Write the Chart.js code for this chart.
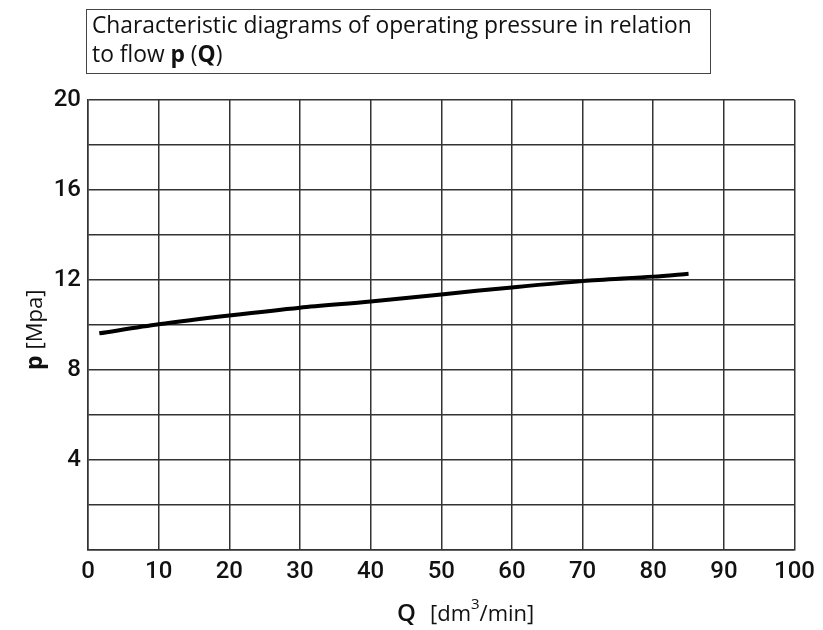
<!DOCTYPE html>
<html>
<head>
<meta charset="utf-8">
<script src="https://cdn.jsdelivr.net/npm/chart.js@4.4.1/dist/chart.umd.min.js"></script>
<style>
  body { margin: 0; background: #fff; }
  #wrap { position: relative; width: 823px; height: 630px; }
  #title {
    position: absolute; left: 86px; top: 9px; width: 618px; height: 63px;
    border: 1.5px solid #444; padding: 0 0 0 5px; box-sizing: content-box;
    font-family: "Open Sans", sans-serif; font-size: 22.8px; line-height: 29px; color: #111;
  }
  #title b { font-weight: 700; }
  canvas { position: absolute; left: 0; top: 0; }
</style>
</head>
<body>
<div id="wrap">
  <canvas id="myChart" width="823" height="630"></canvas>
  <div id="title">Characteristic diagrams of operating pressure in relation<br>to flow <b>p</b> (<b>Q</b>)</div>
</div>
<script>
const flow = [1.6, 10, 20, 30, 40, 50, 60, 70, 80, 85];
const pressure = [9.63, 10.03, 10.42, 10.77, 11.04, 11.36, 11.67, 11.95, 12.15, 12.28];
const xTicks = [0, 10, 20, 30, 40, 50, 60, 70, 80, 90, 100];
const yTicks = [4, 8, 12, 16, 20];

const gridColor = '#333';
const tickFont = { family: 'Roboto', size: 24, weight: '500' };

// axis titles with mixed bold / normal parts
const axisTitles = {
  id: 'axisTitles',
  afterDraw(chart) {
    const c = chart.ctx;
    c.save();
    c.fillStyle = '#111';
    c.textBaseline = 'alphabetic';
    // x title
    c.font = '600 24px "Open Sans"';
    c.fillText('Q', 397, 621);
    c.font = '400 22px "Open Sans"';
    c.fillText('[dm', 430, 621);
    let w = c.measureText('[dm').width;
    c.font = '400 15px "Open Sans"';
    c.fillText('3', 430 + w, 609);
    let w2 = c.measureText('3').width;
    c.font = '400 22px "Open Sans"';
    c.fillText('/min]', 430 + w + w2, 621);
    // y title
    c.translate(42, 370);
    c.rotate(-Math.PI / 2);
    c.font = '700 23px "Open Sans"';
    c.fillText('p', 0, 0);
    let pw = c.measureText('p').width;
    c.font = '400 22px "Open Sans"';
    c.fillText('[Mpa]', pw + 6, 0);
    c.restore();
  }
};

new Chart(document.getElementById('myChart'), {
  type: 'scatter',
  data: {
    datasets: [{
      data: flow.map((q, i) => ({ x: q, y: pressure[i] })),
      showLine: true,
      borderColor: '#000',
      borderWidth: 4,
      pointRadius: 0,
      tension: 0.3
    }]
  },
  options: {
    responsive: false,
    animation: false,
    layout: { padding: { top: 100, right: 28, left: 0, bottom: 0 } },
    plugins: { legend: { display: false }, tooltip: { enabled: false } },
    scales: {
      x: {
        type: 'linear', min: 0, max: 100,
        afterBuildTicks: s => { s.ticks = xTicks.map(v => ({ value: v })); },
        afterFit: s => { s.height = 80; },
        grid: { color: gridColor, lineWidth: 1.5, drawTicks: false },
        border: { color: gridColor, width: 1.5 },
        ticks: { color: '#111', padding: 8, font: tickFont }
      },
      y: {
        min: 0, max: 20,
        ticks: {
          stepSize: 2, color: '#111', padding: 7, font: tickFont,
          callback: v => yTicks.includes(v) ? v : ''
        },
        afterFit: s => { s.width = 88; },
        grid: { color: gridColor, lineWidth: 1.5, drawTicks: false },
        border: { color: gridColor, width: 1.5 }
      }
    }
  },
  plugins: [axisTitles]
});
</script>
</body>
</html>
